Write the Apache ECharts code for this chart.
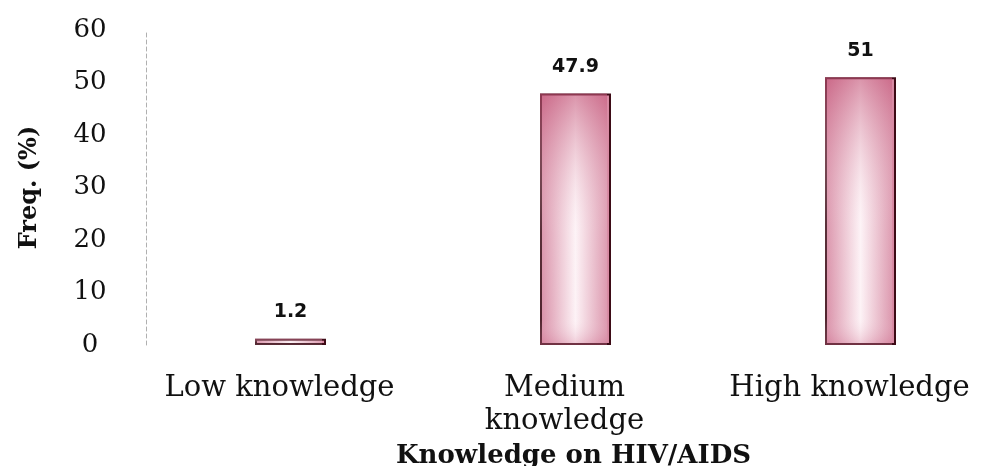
<!DOCTYPE html>
<html>
<head>
<meta charset="utf-8">
<script src="https://cdn.jsdelivr.net/npm/echarts@6/dist/echarts.min.js"></script>
<style>
  html, body { margin: 0; padding: 0; background: #ffffff; }
  #chart { width: 991px; height: 466px; }
</style>
</head>
<body>
<div id="chart"></div>
<script>
// Knowledge levels and the share of respondents in each (%)
const categories = ['Low knowledge', 'Medium\nknowledge', 'High knowledge'];
const freqValues = [1.2, 47.9, 51];
const yTicks = [0, 10, 20, 30, 40, 50, 60];

const chart = echarts.init(document.getElementById('chart'));

const serif = '"DejaVu Serif", "Liberation Serif", serif';

chart.setOption({
  backgroundColor: '#ffffff',
  animation: false,
  grid: { left: 146, width: 855, top: 30, bottom: 121, outerBoundsMode: 'none', containLabel: false },
  xAxis: {
    type: 'category',
    data: categories,
    name: 'Knowledge on HIV/AIDS',
    nameLocation: 'middle',
    nameGap: 94,
    nameTextStyle: { fontFamily: serif, fontWeight: 'bold', fontSize: 26, color: '#111' },
    axisLine: { show: false },
    axisTick: { show: false },
    axisLabel: {
      interval: 0,
      margin: 27,
      fontFamily: serif,
      fontSize: 29,
      lineHeight: 33,
      color: '#111',
      padding: [0, 18, 0, 0]
    }
  },
  yAxis: {
    type: 'value',
    min: yTicks[0],
    max: yTicks[yTicks.length - 1],
    interval: 10,
    name: 'Freq. (%)',
    nameLocation: 'middle',
    nameGap: 104,
    nameTextStyle: { fontFamily: serif, fontWeight: 'bold', fontSize: 24, color: '#111' },
    axisLine: { show: true, lineStyle: { color: '#b0b0b0', type: [4, 3], width: 1 } },
    axisTick: { show: false },
    splitLine: { show: false },
    axisLabel: {
      align: 'center',
      margin: 56,
      fontFamily: serif,
      fontSize: 26,
      color: '#111'
    }
  },
  series: [
    {
      type: 'bar',
      data: freqValues,
      barWidth: 71,
      itemStyle: {
        color: {
          type: 'linear', x: 0, y: 0, x2: 1, y2: 0,
          colorStops: [
            { offset: 0, color: '#d4819c' },
            { offset: 0.5, color: '#fdf1f5' },
            { offset: 1, color: '#d4819c' }
          ]
        },
        borderColor: '#3d0b16',
        borderWidth: 2
      },
      label: {
        show: true,
        position: 'top',
        distance: 17,
        fontFamily: '"DejaVu Sans", sans-serif',
        fontWeight: 'bold',
        fontSize: 19,
        color: '#111'
      }
    },
    {
      // darker wash toward the top of each bar
      type: 'bar',
      data: freqValues,
      barWidth: 67,
      barGap: '-100%',
      silent: true,
      itemStyle: {
        color: {
          type: 'linear', x: 0, y: 0, x2: 0, y2: 1,
          colorStops: [
            { offset: 0, color: 'rgba(195,85,120,0.6)' },
            { offset: 0.55, color: 'rgba(255,255,255,0.15)' },
            { offset: 0.9, color: 'rgba(255,255,255,0.1)' },
            { offset: 1, color: 'rgba(210,120,150,0.35)' }
          ]
        }
      }
    }
  ]
});
</script>
</body>
</html>
